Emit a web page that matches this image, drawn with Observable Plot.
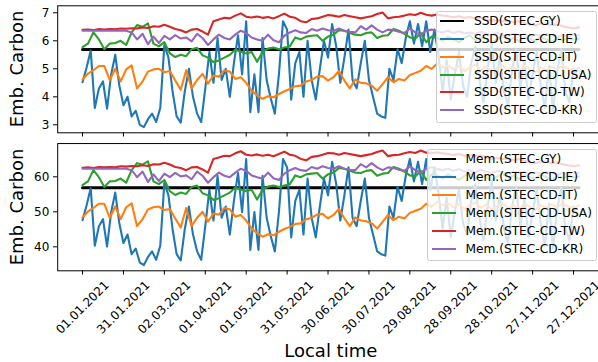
<!DOCTYPE html>
<html><head><meta charset="utf-8">
<script src="https://cdn.jsdelivr.net/npm/d3@7"></script>
<script src="https://cdn.jsdelivr.net/npm/@observablehq/plot@0.6"></script>
<style>
html,body{margin:0;padding:0;background:#fff;overflow:hidden;width:598px;height:362px}
#chart{position:relative;width:598px;height:362px}
#chart svg{display:block;overflow:hidden !important}
.leg{position:absolute;box-sizing:border-box;background:rgba(255,255,255,0.8);border:1px solid #cccccc;border-radius:2.5px;font-family:"DejaVu Sans";font-size:12.2px;color:#000}
.row{position:absolute;left:3.8px;height:14px;display:flex;align-items:center;white-space:nowrap}
.sw{width:24px;height:2px;margin-right:9.6px;flex:none}
.ylab{position:absolute;font-family:"DejaVu Sans";font-size:18px;color:#000;white-space:nowrap;transform:translate(-50%,-50%) rotate(-90deg);line-height:1}
</style>
</head><body><div id="chart"></div>
<script>
const tickLabels = ["01.01.2021","31.01.2021","02.03.2021","01.04.2021","01.05.2021","31.05.2021","30.06.2021","30.07.2021","29.08.2021","28.09.2021","28.10.2021","27.11.2021","27.12.2021"];
const firstDay = "01.01.2021", lastDay = "31.12.2021";
const seriesNames = ["STEC-GY","STEC-CD-IE","STEC-CD-IT","STEC-CD-USA","STEC-CD-TW","STEC-CD-KR"];
const seriesColors = ["#000000","#1f77b4","#ff7f0e","#2ca02c","#d62728","#9467bd"];
const yLabel = "Emb. Carbon", xLabel = "Local time";
// day steps between consecutive values
const stepGY = 364, stepIE = 3, stepOther = 4;

const ssdGY = [5.69, 5.69];
const ssdIE = [4.52,5.05,5.65,3.60,4.30,4.55,3.58,4.80,5.50,4.40,
 3.70,4.00,3.30,3.50,3.00,2.92,3.20,3.40,3.10,3.60,
 5.85,5.40,4.20,3.30,3.08,4.20,5.00,4.00,3.40,3.10,
 4.30,5.60,4.50,6.10,4.60,5.00,4.00,5.20,6.20,4.80,
 6.70,3.45,4.80,3.45,6.10,4.60,3.95,3.40,4.80,6.70,
 6.40,3.90,5.20,5.60,4.00,6.00,4.60,3.90,5.00,6.00,
 5.40,6.60,5.80,4.50,5.40,6.40,4.60,4.30,5.20,6.00,
 4.60,4.00,3.40,3.30,3.25,5.00,4.60,5.70,5.20,6.10,
 6.70,5.90,6.60,5.80,6.70,5.60,6.40,5.50,4.20,5.30,
 3.90,4.80,5.60,4.40,4.00,5.20,5.80,4.60,3.80,5.00,
 5.90,4.50,5.40,4.20,3.70,5.00,5.70,4.30,5.30,3.90,
 4.80,5.60,4.40,3.60,5.10,3.50,4.90,5.70,4.20,3.80,
 5.00,4.70];
const ssdIT = [4.62,4.83,4.95,5.10,5.10,4.60,5.00,4.55,4.98,5.12,
 4.30,4.55,4.90,4.98,5.00,4.88,4.92,4.58,4.25,4.95,
 4.30,4.60,4.82,4.47,4.76,4.72,4.95,4.90,4.64,4.70,
 4.50,4.22,4.05,3.93,4.02,3.98,4.10,4.20,4.28,4.38,
 4.40,4.55,4.60,4.72,4.74,4.58,4.70,4.92,4.58,4.30,
 4.62,4.50,4.48,4.40,4.22,4.45,4.70,4.52,4.64,4.58,
 4.78,4.85,4.93,5.10,5.00,5.18,5.05,5.12,4.98,5.10,
 4.92,5.05,5.15,4.95,5.08,4.90,5.02,5.12,4.96,5.06,
 4.92,5.10,5.00,4.88,5.05,4.95,5.08,4.98,5.12,5.00,
 4.94,5.04];
const ssdUSA = [5.77,5.90,6.30,6.05,5.70,5.90,5.92,6.00,5.85,6.30,
 6.56,6.50,6.62,5.90,5.80,5.95,5.55,5.42,5.50,5.45,
 5.70,5.75,5.48,5.40,5.24,5.30,5.40,5.50,5.68,5.62,
 5.55,5.60,5.25,5.60,5.72,5.76,5.70,5.76,5.80,6.12,
 6.05,6.15,6.18,6.20,6.00,6.15,6.22,6.38,6.36,6.28,
 6.22,6.20,6.28,6.30,6.10,6.18,6.20,6.42,6.36,6.25,
 6.12,6.08,6.28,5.95,6.15,6.10,6.00,6.15,6.05,5.95,
 6.10,6.20,6.00,6.12,6.05,5.92,6.08,6.18,6.02,6.10,
 5.98,6.12,6.06,6.00,6.15,6.05,5.95,6.10,6.02,6.12,
 6.04,6.08];
const ssdTW = [6.39,6.40,6.38,6.42,6.40,6.42,6.41,6.44,6.43,6.45,
 6.44,6.48,6.46,6.52,6.50,6.57,6.50,6.42,6.38,6.30,
 6.40,6.42,6.33,6.22,6.70,6.76,6.82,6.80,6.90,6.98,
 6.86,6.83,6.87,6.82,6.85,6.80,6.88,6.97,6.86,6.82,
 6.70,6.66,6.78,6.80,6.86,6.92,6.90,6.86,6.92,6.88,
 6.84,6.80,6.84,6.88,6.96,7.01,6.80,6.84,6.86,6.90,
 6.95,6.92,7.00,6.93,6.90,6.94,6.90,6.88,6.84,6.88,
 6.82,6.85,6.80,6.83,6.76,6.72,6.74,6.70,6.72,6.66,
 6.70,6.64,6.58,6.55,6.62,6.60,6.56,6.58,6.52,6.48,
 6.44,6.48];
const ssdKR = [6.36,6.36,6.36,6.36,6.36,6.36,6.36,6.36,6.36,6.30,
 6.05,6.25,5.88,6.15,5.92,6.18,6.05,6.20,6.08,6.12,
 5.98,6.25,6.10,5.85,6.05,6.22,6.10,6.05,6.22,6.36,
 6.28,6.12,6.05,6.00,6.22,6.02,5.95,6.18,6.30,6.38,
 6.30,6.28,6.42,6.36,6.44,6.38,6.35,6.44,6.36,6.32,
 6.30,6.52,6.40,6.55,6.40,6.30,6.40,6.38,6.32,6.28,
 6.44,6.30,6.22,6.36,6.40,6.34,6.30,6.36,6.28,6.34,
 6.26,6.30,6.24,6.32,6.26,6.20,6.28,6.22,6.18,6.26,
 6.20,6.24,6.16,6.22,6.18,6.24,6.20,6.14,6.20,6.16,
 6.22,6.20];

const memGY = [56.9, 56.9];
const memIE = [47.6,51.9,56.7,40.3,45.9,47.9,40.1,49.9,55.5,46.7,
 41.1,43.5,37.9,39.5,35.5,34.8,37.1,38.7,36.3,40.3,
 58.3,54.7,45.1,37.9,36.1,45.1,51.5,43.5,38.7,36.3,
 45.9,56.3,47.5,60.3,48.3,51.5,43.5,53.1,61.1,49.9,
 65.1,39.1,49.9,39.1,60.3,48.3,43.1,38.7,49.9,65.1,
 62.7,42.7,53.1,56.3,43.5,59.5,48.3,42.7,51.5,59.5,
 54.7,64.3,57.9,47.5,54.7,62.7,48.3,45.9,53.1,59.5,
 48.3,43.5,38.7,37.9,37.5,51.5,48.3,57.1,53.1,60.3,
 65.1,58.7,64.3,57.9,65.1,56.3,62.7,55.5,45.1,53.9,
 42.7,49.9,56.3,46.7,43.5,53.1,57.9,48.3,41.9,51.5,
 58.7,47.5,54.7,45.1,41.1,51.5,57.1,45.9,53.9,42.7,
 49.9,56.3,46.7,40.3,52.3,39.5,50.7,57.1,45.1,41.9,
 51.5,49.1];
const memIT = [48.4,50.1,51.1,52.3,52.3,48.3,51.5,47.9,51.3,52.4,
 45.9,47.9,50.7,51.3,51.5,50.5,50.8,48.1,45.5,51.1,
 45.9,48.3,50.0,47.2,49.5,49.2,51.1,50.7,48.6,49.1,
 47.5,45.2,43.9,42.9,43.6,43.3,44.3,45.1,45.7,46.5,
 46.7,47.9,48.3,49.2,49.4,48.1,49.1,50.8,48.1,45.9,
 48.4,47.5,47.3,46.7,45.2,47.1,49.1,47.6,48.6,48.1,
 49.7,50.3,50.9,52.3,51.5,52.9,51.9,52.4,51.3,52.3,
 50.8,51.9,52.7,51.1,52.1,50.7,51.6,52.4,51.1,51.9,
 50.8,52.3,51.5,50.5,51.9,51.1,52.1,51.3,52.4,51.5,
 51.0,51.8];
const memUSA = [57.6,58.7,61.9,59.9,57.1,58.7,58.8,59.5,58.3,61.9,
 63.9,63.5,64.4,58.7,57.9,59.1,55.9,54.8,55.5,55.1,
 57.1,57.5,55.3,54.7,53.4,53.9,54.7,55.5,56.9,56.4,
 55.9,56.3,53.5,56.3,57.2,57.5,57.1,57.5,57.9,60.4,
 59.9,60.7,60.9,61.1,59.5,60.7,61.2,62.5,62.3,61.7,
 61.2,61.1,61.7,61.9,60.3,60.9,61.1,62.8,62.3,61.5,
 60.4,60.1,61.7,59.1,60.7,60.3,59.5,60.7,59.9,59.1,
 60.3,61.1,59.5,60.4,59.9,58.8,60.1,60.9,59.6,60.3,
 59.3,60.4,59.9,59.5,60.7,59.9,59.1,60.3,59.6,60.4,
 59.8,60.1];
const memTW = [62.6,62.7,62.5,62.8,62.7,62.8,62.7,63.0,62.9,63.1,
 63.0,63.3,63.1,63.6,63.5,64.0,63.5,62.8,62.5,61.9,
 62.7,62.8,62.1,61.2,65.1,65.5,66.0,65.9,66.7,67.3,
 66.3,66.1,66.4,66.0,66.3,65.9,66.5,67.2,66.3,66.0,
 65.1,64.7,65.7,65.9,66.3,66.8,66.7,66.3,66.8,66.5,
 66.2,65.9,66.2,66.5,67.1,67.5,65.9,66.2,66.3,66.7,
 67.1,66.8,67.5,66.9,66.7,67.0,66.7,66.5,66.2,66.5,
 66.0,66.3,65.9,66.1,65.5,65.2,65.4,65.1,65.2,64.7,
 65.1,64.6,64.1,63.9,64.4,64.3,63.9,64.1,63.6,63.3,
 63.0,63.3];
const memKR = [62.3,62.3,62.3,62.3,62.3,62.3,62.3,62.3,62.3,61.9,
 59.9,61.5,58.5,60.7,58.8,60.9,59.9,61.1,60.1,60.4,
 59.3,61.5,60.3,58.3,59.9,61.2,60.3,59.9,61.2,62.3,
 61.7,60.4,59.9,59.5,61.2,59.6,59.1,60.9,61.9,62.5,
 61.9,61.7,62.8,62.3,63.0,62.5,62.3,63.0,62.3,62.0,
 61.9,63.6,62.7,63.9,62.7,61.9,62.7,62.5,62.0,61.7,
 63.0,61.9,61.2,62.3,62.7,62.2,61.9,62.3,61.7,62.2,
 61.5,61.9,61.4,62.0,61.5,61.1,61.7,61.2,60.9,61.5,
 61.1,61.4,60.7,61.2,60.9,61.4,61.1,60.6,61.1,60.7,
 61.2,61.1];

const parse = d3.utcParse("%d.%m.%Y");
const t0 = parse(firstDay), t1 = parse(lastDay);
const DAY = 864e5;
const tickDates = tickLabels.map(parse);
const xDomain = [new Date(+t0 - 18.2 * DAY), new Date(+t1 + 18.2 * DAY)];
const rows = (values, step) => values.map((v, i) => ({date: new Date(+t0 + i * step * DAY), value: v}));

const ssdSeries = [[ssdGY, stepGY], [ssdIE, stepIE], [ssdIT, stepOther], [ssdUSA, stepOther], [ssdTW, stepOther], [ssdKR, stepOther]];
const memSeries = [[memGY, stepGY], [memIE, stepIE], [memIT, stepOther], [memUSA, stepOther], [memTW, stepOther], [memKR, stepOther]];

function panel({series, yDomain, yTicks, height, marginTop, marginBottom, bottom}) {
  const marks = [
    Plot.axisY({ticks: yTicks, tickSize: 4.2, tickPadding: 4.2, tickFormat: d3.format("d"), label: null, fontSize: 12}),
    Plot.axisX({ticks: tickDates, tickSize: 4.2, tickFormat: () => "", label: null}),
    ...series.map(([vals, step], i) => Plot.line(rows(vals, step), {
      x: "date", y: "value", stroke: seriesColors[i], strokeWidth: i === 0 ? 3 : 2.1, strokeLinejoin: "round"
    })),
    Plot.frame({stroke: "black", strokeWidth: 1})
  ];
  if (bottom) {
    marks.push(Plot.text(tickLabels, {x: d => parse(d), text: d => d, frameAnchor: "bottom", dy: 36.7, rotate: -45, textAnchor: "middle", lineAnchor: "middle", fontSize: 12}));
    marks.push(Plot.text([xLabel], {text: d => d, frameAnchor: "bottom", dy: 80.5, fontSize: 18, lineAnchor: "middle"}));
  }
  return Plot.plot({
    width: 598, height, marginLeft: 57.2, marginRight: -5.3, marginTop, marginBottom,
    x: {type: "utc", domain: xDomain, axis: null},
    y: {domain: yDomain, axis: null},
    style: {fontFamily: '"DejaVu Sans"', fontSize: "12px", color: "black", background: "white"},
    marks
  });
}

const chart = document.getElementById("chart");
chart.append(panel({series: ssdSeries, yDomain: [2.715, 7.25], yTicks: [3,4,5,6,7], height: 138, marginTop: 5.3, marginBottom: 5.7, bottom: false}));
chart.append(panel({series: memSeries, yDomain: [33.15, 69.5], yTicks: [40,50,60], height: 224, marginTop: 5.05, marginBottom: 91.7, bottom: true}));

function addYLabel(cx, cy) {
  const d = document.createElement("div");
  d.className = "ylab";
  d.textContent = yLabel;
  d.style.left = cx + "px";
  d.style.top = cy + "px";
  chart.append(d);
}
addYLabel(17, 68.8);
addYLabel(17, 206.7);

function legend(prefix, left, top, width, height) {
  const box = document.createElement("div");
  box.className = "leg";
  Object.assign(box.style, {left: left + "px", top: top + "px", width: width + "px", height: height + "px"});
  seriesNames.forEach((name, i) => {
    const row = document.createElement("div");
    row.className = "row";
    row.style.top = (10.3 + 17.9 * i - 7 - 1) + "px";
    const sw = document.createElement("span");
    sw.className = "sw";
    sw.style.background = seriesColors[i];
    const tx = document.createElement("span");
    tx.textContent = prefix + "(" + name + ")";
    row.append(sw, tx);
    box.append(row);
  });
  chart.append(box);
}
legend("SSD", 435.5, 10.5, 161.5, 112.5);
legend("Mem.", 427, 149, 170, 111.5);
</script></body></html>
